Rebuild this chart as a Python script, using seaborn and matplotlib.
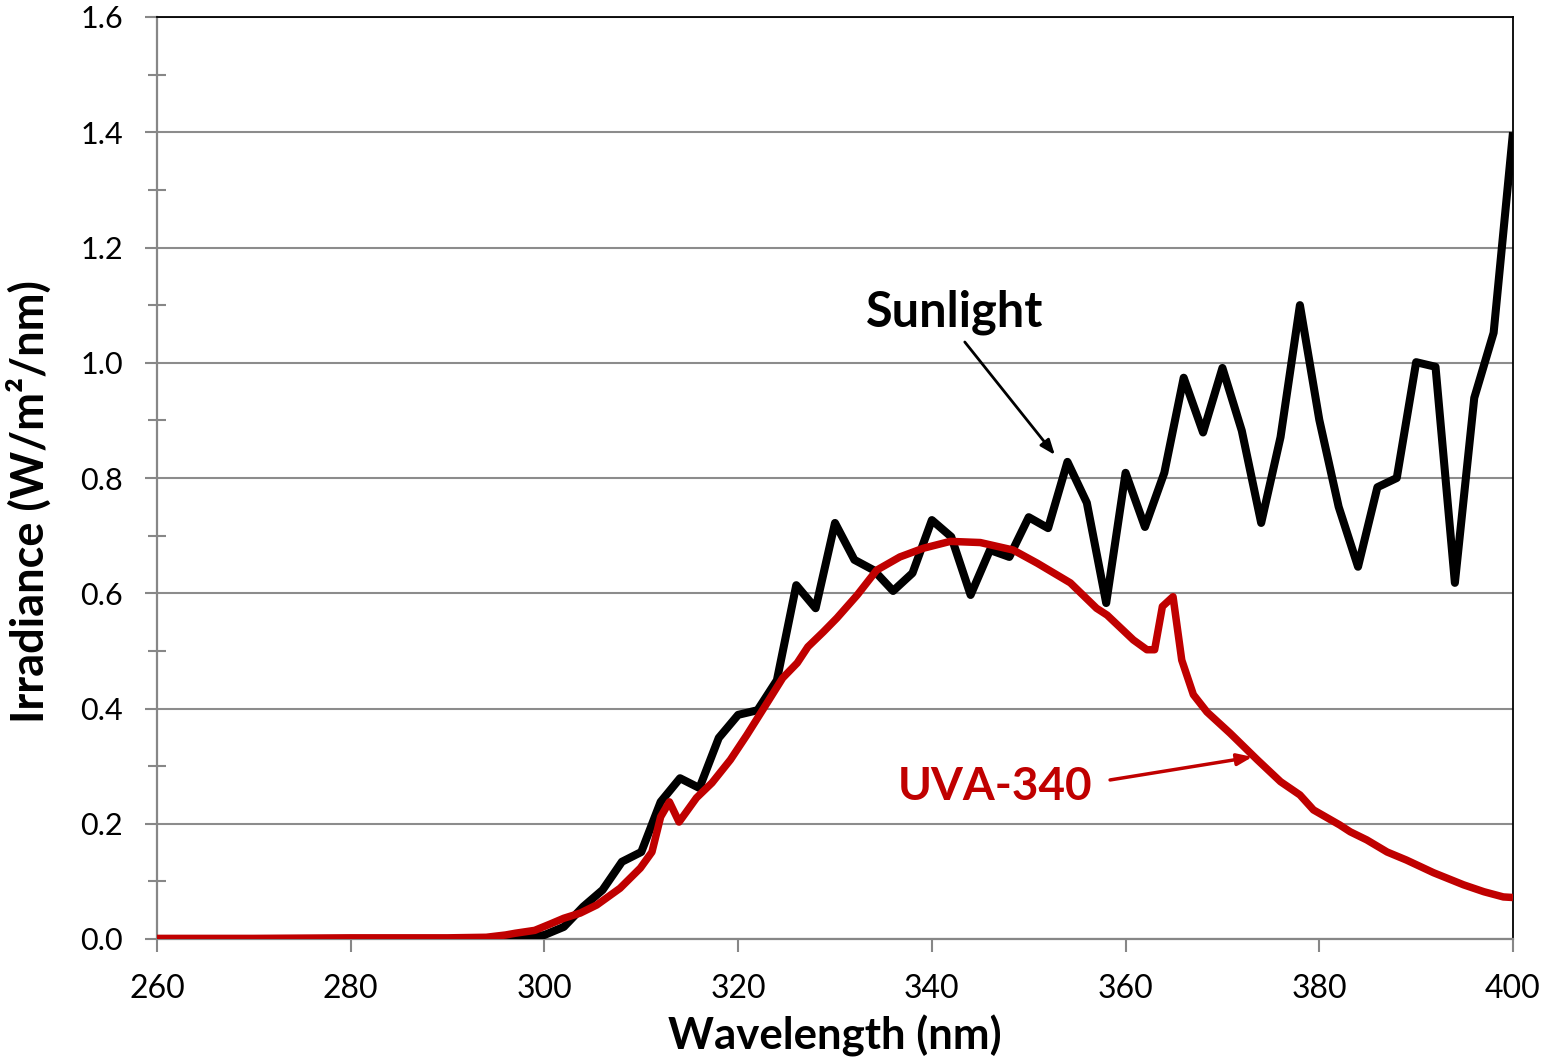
import numpy as np
import pandas as pd
import matplotlib
matplotlib.use("Agg")
import matplotlib.pyplot as plt
import seaborn as sns
from matplotlib.ticker import MultipleLocator

# ---- data ----
sun_wavelength = [260, 262, 264, 266, 268, 270, 272, 274, 276, 278, 280, 282, 284, 286, 288,
                  290, 292, 294, 296, 298, 300, 302, 304, 306, 308, 310, 312, 314, 316, 318,
                  320, 322, 324, 326, 328, 330, 332, 334, 336, 338, 340, 342, 344, 346, 348,
                  350, 352, 354, 356, 358, 360, 362, 364, 366, 368, 370, 372, 374, 376, 378,
                  380, 382, 384, 386, 388, 390, 392, 394, 396, 398, 400]
sun_irradiance = [0, 0, 0, 0, 0, 0, 0, 0, 0, 0, 0, 0, 0, 0, 0,
                  0, 0, 0, 0.0, 0.002, 0.007, 0.021, 0.056, 0.085, 0.134, 0.151, 0.238, 0.279, 0.262, 0.349,
                  0.389, 0.397, 0.449, 0.614, 0.574, 0.722, 0.658, 0.640, 0.604, 0.635, 0.727, 0.698, 0.597, 0.675, 0.663,
                  0.732, 0.713, 0.828, 0.757, 0.583, 0.809, 0.715, 0.809, 0.974, 0.879, 0.991, 0.882, 0.722, 0.871, 1.100,
                  0.901, 0.750, 0.646, 0.784, 0.800, 1.001, 0.993, 0.618, 0.939, 1.052, 1.400]

uva_wavelength = [260, 270, 280, 290, 294, 296, 297, 299, 300.6, 302, 303.7, 305.4, 307.8, 309.9,
                  311.1, 312, 312.9, 313.9, 315.7, 317.3, 319.2, 320.9, 323, 324.6, 326.1, 327.2,
                  328.8, 330.2, 332.3, 334.3, 336.7, 339.1, 341.9, 345, 348.4, 350.9, 354.3, 357,
                  358.1, 360.8, 362.2, 363, 363.8, 364.9, 365.8, 367, 368.4, 370.8, 373.6, 376,
                  378, 379.4, 382.1, 383.2, 384.9, 387, 389, 391.8, 394.9, 397, 399, 400]
uva_irradiance = [0.001, 0.001, 0.002, 0.002, 0.003, 0.007, 0.010, 0.015, 0.026, 0.036, 0.045, 0.059, 0.088, 0.123,
                  0.151, 0.212, 0.238, 0.203, 0.245, 0.271, 0.311, 0.354, 0.410, 0.453, 0.479, 0.507,
                  0.533, 0.557, 0.597, 0.640, 0.663, 0.678, 0.690, 0.688, 0.675, 0.652, 0.618, 0.574,
                  0.562, 0.519, 0.502, 0.502, 0.577, 0.594, 0.484, 0.424, 0.394, 0.357, 0.311, 0.273,
                  0.250, 0.224, 0.198, 0.186, 0.172, 0.151, 0.137, 0.115, 0.094, 0.082, 0.073, 0.072]

x_ticks = [260, 280, 300, 320, 340, 360, 380, 400]
y_ticks = [0.0, 0.2, 0.4, 0.6, 0.8, 1.0, 1.2, 1.4, 1.6]

sun_df = pd.DataFrame({"wl": sun_wavelength, "irr": sun_irradiance})
uva_df = pd.DataFrame({"wl": uva_wavelength, "irr": uva_irradiance})

# ---- style ----
sns.set_style("white")
plt.rcParams["font.family"] = ["Lato", "DejaVu Sans"]
plt.rcParams["text.color"] = "black"
plt.rcParams["axes.labelcolor"] = "black"

fig = plt.figure(figsize=(15.42, 10.60), dpi=100)
ax = fig.add_axes([157 / 1542, 1 - 939 / 1060, (1513 - 157) / 1542, (939 - 17) / 1060])

GRAY = "#878787"
RED = "#C00000"

ax.grid(True, axis="y", color="#8c8c8c", linewidth=1.5, zorder=0)
ax.grid(False, axis="x")
ax.set_axisbelow(True)

sns.lineplot(data=sun_df, x="wl", y="irr", ax=ax, color="black", linewidth=5.8,
             sort=False, estimator=None, zorder=3)
sns.lineplot(data=uva_df, x="wl", y="irr", ax=ax, color=RED, linewidth=5.4,
             sort=False, estimator=None, zorder=4)
for ln in ax.lines:
    ln.set_solid_joinstyle("round")
    ln.set_solid_capstyle("butt")

ax.set_xlim(260, 400)
ax.set_ylim(0, 1.6)
ax.set_xticks(x_ticks)
ax.set_xticklabels([str(t) for t in x_ticks])
ax.set_yticks(y_ticks)
ax.set_yticklabels([f"{t:.1f}" for t in y_ticks])
ax.yaxis.set_minor_locator(MultipleLocator(0.1))

for side in ["left", "bottom"]:
    ax.spines[side].set_color(GRAY)
    ax.spines[side].set_linewidth(1.6)
for side in ["top", "right"]:
    ax.spines[side].set_color("black")
    ax.spines[side].set_linewidth(1.3)
    ax.spines[side].set_visible(True)

ax.tick_params(axis="y", which="major", direction="out", length=8.6, width=1.5,
               color=GRAY, pad=16, labelsize=22, labelcolor="black", left=True)
ax.tick_params(axis="y", which="minor", direction="inout", length=13, width=1.5,
               color=GRAY, left=True)
ax.tick_params(axis="x", which="major", direction="out", length=9, width=1.5,
               color=GRAY, pad=16, labelsize=23, labelcolor="black", bottom=True)

ax.set_xlabel("Wavelength (nm)", fontsize=31.5, fontweight="bold", color="black")
ax.xaxis.set_label_coords(0.5, -0.082)
ax.set_ylabel("Irradiance (W/m²/nm)", fontsize=32.5, fontweight="bold", color="black")
ax.yaxis.set_label_coords(-0.078, 0.474)

# annotations
ax.text(342.4, 1.088, "Sunlight", fontsize=35, fontweight="bold", color="black",
        ha="center", va="center", zorder=6)
ax.annotate("", xy=(352.7, 0.840), xytext=(343.4, 1.036),
            arrowprops=dict(arrowstyle="-|>,head_length=0.9,head_width=0.35",
                            color="black", lw=2, shrinkA=0, shrinkB=0), zorder=6)
ax.text(346.5, 0.264, "UVA-340", fontsize=33, fontweight="bold", color=RED,
        ha="center", va="center", zorder=6)
ax.annotate("", xy=(373.1, 0.316), xytext=(358.4, 0.276),
            arrowprops=dict(arrowstyle="-|>,head_length=0.9,head_width=0.35",
                            color=RED, lw=2.5, shrinkA=0, shrinkB=0), zorder=6)

fig.savefig("out.png", dpi=100)
